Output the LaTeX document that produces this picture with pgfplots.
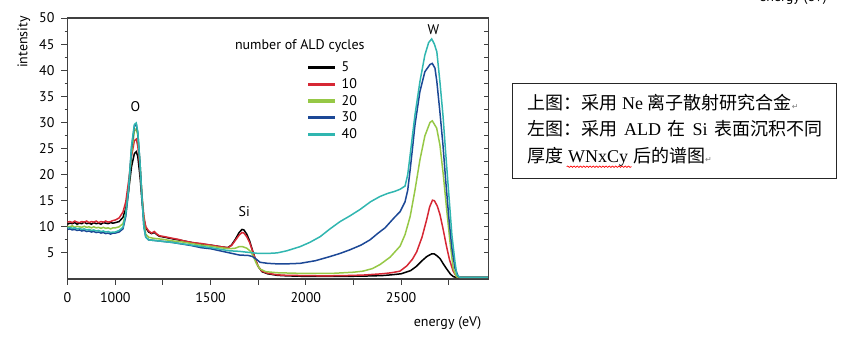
\documentclass[border=0pt]{standalone}
\usepackage{fontspec}
\setmainfont{PT Sans}
\newfontfamily\cjk{Noto Sans CJK SC}
\newfontfamily\tms{Liberation Serif}
\newfontfamily\djv{DejaVu Sans}
\usepackage{pgfplots}
\pgfplotsset{compat=1.18}
\usepackage{pgfplotstable}
\usetikzlibrary{decorations.pathmorphing}

\definecolor{cred}{RGB}{214,40,52}
\definecolor{cgreen}{RGB}{150,200,70}
\definecolor{cblue}{RGB}{28,72,150}
\definecolor{ccyan}{RGB}{48,182,176}
\definecolor{axgray}{RGB}{64,64,64}

\pgfplotstableread{
E I
0 10.5
50 10.7
100 10.6
150 10.8
200 10.5
250 10.7
300 10.6
350 10.9
400 10.6
450 10.7
500 10.5
550 10.8
600 10.6
650 10.7
700 10.5
750 10.8
800 10.7
850 10.6
900 10.8
950 10.7
1000 10.8
1020 11.0
1040 11.8
1055 13.5
1070 17.0
1085 21.5
1100 24.0
1110 24.4
1118 23.5
1130 19.5
1140 15.0
1150 11.5
1160 9.8
1175 9.0
1190 8.7
1205 8.9
1215 8.6
1230 8.2
1260 8.0
1300 7.7
1330 7.5
1360 7.3
1400 7.0
1450 6.7
1500 6.5
1550 6.2
1590 6.0
1610 6.5
1630 7.6
1650 8.9
1665 9.5
1675 9.4
1690 8.6
1705 7.3
1720 5.5
1735 3.8
1750 2.4
1770 1.4
1800 1.0
1850 0.7
1900 0.6
2000 0.5
2100 0.5
2200 0.5
2300 0.55
2400 0.65
2450 0.8
2500 1.0
2550 1.6
2580 2.4
2610 3.5
2635 4.3
2660 4.8
2675 4.8
2690 4.4
2705 3.9
2720 3.0
2740 1.9
2760 0.9
2775 0.45
2790 0.3
2850 0.3
2958 0.3
}\tblack

\pgfplotstableread{
E I
0 10.9
50 11.0
100 10.8
150 11.1
200 10.9
250 10.8
300 11.0
350 10.9
400 11.1
450 10.8
500 11.0
550 10.9
600 11.1
650 10.8
700 11.0
750 10.9
800 11.1
850 10.9
900 11.0
950 11.2
1000 11.3
1020 11.7
1040 12.8
1055 14.8
1070 18.8
1085 23.5
1100 26.5
1110 26.8
1118 25.5
1130 21.0
1140 16.0
1150 12.0
1160 10.0
1175 9.2
1190 8.8
1205 9.1
1215 8.7
1230 8.3
1260 8.1
1300 7.8
1330 7.6
1360 7.3
1400 7.0
1450 6.8
1500 6.5
1550 6.2
1590 6.0
1610 6.4
1630 7.4
1650 8.4
1665 8.9
1675 8.8
1690 8.1
1705 7.0
1720 5.4
1735 3.8
1750 2.4
1770 1.5
1800 1.1
1850 0.8
1900 0.7
2000 0.65
2100 0.6
2200 0.65
2300 0.75
2400 1.0
2450 1.2
2494 1.5
2530 2.5
2560 3.8
2582 5.2
2610 8.0
2634 11.3
2650 13.8
2665 15.1
2675 15.0
2690 14.0
2704 12.4
2720 9.7
2739 6.2
2755 3.6
2774 1.5
2790 0.5
2800 0.3
2850 0.3
2958 0.3
}\tred

\pgfplotstableread{
E I
0 10.1
50 10.0
100 10.2
150 9.9
200 10.1
250 10.0
300 9.9
350 10.1
400 9.9
450 10.0
500 9.8
550 10.0
600 9.8
650 9.9
700 9.7
750 9.9
800 9.7
850 9.8
900 9.6
950 9.8
1000 9.8
1020 10.0
1040 10.6
1055 12.5
1070 17.0
1085 24.0
1100 28.3
1110 28.8
1118 27.5
1130 22.0
1140 16.0
1150 11.0
1160 8.6
1175 8.0
1200 7.8
1250 7.6
1300 7.3
1350 7.1
1400 6.8
1450 6.5
1500 6.3
1550 6.0
1600 5.8
1630 5.9
1650 6.2
1668 6.2
1690 5.9
1710 5.3
1725 4.3
1740 3.0
1760 1.9
1790 1.4
1850 1.2
1950 1.1
2050 1.1
2150 1.1
2250 1.3
2300 1.5
2350 2.0
2391 2.8
2443 4.2
2495 6.3
2521 8.5
2548 12.0
2573 17.0
2599 22.8
2625 27.4
2652 30.0
2664 30.3
2687 28.9
2704 25.7
2722 19.9
2739 13.5
2757 7.1
2774 2.0
2791 0.4
2810 0.3
2958 0.3
}\tgreen

\pgfplotstableread{
E I
0 9.5
50 9.6
100 9.4
150 9.5
200 9.3
250 9.4
300 9.2
350 9.3
400 9.1
450 9.2
500 9.0
550 9.1
600 8.9
650 9.0
700 8.8
750 8.9
800 8.7
850 8.8
900 8.6
950 8.8
1000 8.8
1020 9.0
1040 9.6
1055 12.0
1070 17.0
1085 25.0
1100 29.3
1110 29.6
1118 28.0
1130 22.0
1140 15.5
1150 10.0
1160 8.0
1175 7.5
1200 7.4
1250 7.2
1300 7.0
1350 6.7
1400 6.4
1450 6.0
1500 5.8
1550 5.4
1600 5.0
1650 4.6
1700 4.5
1720 4.3
1740 3.8
1760 3.2
1800 3.0
1850 2.9
1900 2.9
1970 3.0
2050 3.5
2127 4.3
2180 4.9
2232 5.6
2290 6.5
2337 7.5
2380 8.8
2416 9.8
2468 11.9
2495 12.9
2521 14.8
2535 17.0
2548 21.0
2560 25.0
2573 29.5
2599 35.9
2625 39.7
2652 41.1
2664 41.3
2678 40.4
2688 37.8
2704 32.0
2720 25.7
2735 18.6
2751 11.7
2767 5.9
2783 2.1
2800 0.5
2810 0.3
2958 0.3
}\tblue

\pgfplotstableread{
E I
0 9.8
50 9.9
100 9.7
150 9.8
200 9.6
250 9.7
300 9.5
350 9.6
400 9.4
450 9.5
500 9.3
550 9.4
600 9.2
650 9.3
700 9.1
750 9.2
800 9.0
850 9.1
900 8.9
950 9.0
1000 9.0
1020 9.3
1040 9.9
1055 12.5
1070 17.5
1085 25.5
1100 29.6
1110 29.9
1118 28.2
1130 22.0
1140 15.5
1150 10.0
1160 8.0
1175 7.5
1200 7.4
1250 7.2
1300 7.0
1400 6.5
1500 6.0
1550 5.7
1600 5.4
1650 5.3
1700 5.1
1750 4.9
1800 4.9
1850 5.0
1900 5.4
1970 6.2
2020 7.0
2075 8.1
2127 9.6
2180 11.0
2232 12.1
2284 13.3
2340 14.8
2389 15.8
2430 16.4
2468 16.8
2495 17.2
2521 17.8
2535 20.0
2548 23.8
2560 27.5
2573 31.4
2599 37.8
2625 42.9
2645 45.3
2661 46.0
2675 45.0
2688 43.5
2704 37.8
2720 31.4
2735 23.8
2751 16.1
2767 8.4
2783 3.3
2793 0.8
2810 0.3
2958 0.3
}\tcyan

\begin{document}
\begin{tikzpicture}[x=0.5pt,y=0.5pt]
\path[use as bounding box] (0,0) rectangle (859,343);
\begin{axis}[
  at={(33.75pt,32pt)}, anchor=south west, scale only axis,
  width=210.4pt, height=130.5pt,
  xmin=749, xmax=2958, ymin=0, ymax=50,
  xtick={749,1000,1250,1500,1750,2000,2250,2500,2750},
  xticklabels={0,1000,,1500,,2000,,2500,},
  ytick={5,10,...,50}, minor y tick num=1,
  xtick pos=bottom, ytick pos=left,
  tick align=outside,
  major tick length=3pt, minor tick length=1.4pt,
  axis line style={line width=0.6pt, color=axgray},
  tick style={line width=0.5pt, color=axgray},
  /pgf/number format/assume math mode=true,
  font=\fontsize{7}{8}\selectfont,
  xlabel={energy (eV)}, ylabel={intensity},
  xlabel style={at={(axis description cs:1,-0.168)}, anchor=east},
  ylabel style={at={(axis description cs:-0.104,0.908)}, anchor=center},
  legend style={at={(axis description cs:0.567,0.838)}, anchor=north west,
    draw=none, fill=none, font=\fontsize{7}{8}\selectfont, inner sep=0pt,
    row sep=1.35pt, column sep=2pt,
    nodes={inner sep=0.5pt, text height=5pt, text depth=1pt}},
  legend cell align=left,
  legend image code/.code={\draw[#1,line width=1.6pt] (0pt,0pt) -- (13.5pt,0pt);},
  every axis plot/.append style={line width=0.75pt, mark=none},
]
\addplot[black] table[x expr={\thisrow{E}<1000 ? 749+0.251*\thisrow{E} : \thisrow{E}}, y=I] {\tblack};
\addlegendentry{5}
\addplot[cred] table[x expr={\thisrow{E}<1000 ? 749+0.251*\thisrow{E} : \thisrow{E}}, y=I] {\tred};
\addlegendentry{10}
\addplot[cgreen] table[x expr={\thisrow{E}<1000 ? 749+0.251*\thisrow{E} : \thisrow{E}}, y=I] {\tgreen};
\addlegendentry{20}
\addplot[cblue] table[x expr={\thisrow{E}<1000 ? 749+0.251*\thisrow{E} : \thisrow{E}}, y=I] {\tblue};
\addlegendentry{30}
\addplot[ccyan] table[x expr={\thisrow{E}<1000 ? 749+0.251*\thisrow{E} : \thisrow{E}}, y=I] {\tcyan};
\addlegendentry{40}
\node at (axis cs:1105,33) {O};
\node at (axis cs:1677,13) {Si};
\node at (axis cs:2670,47.7) {W};
\node at (axis description cs:0.552,0.893) {number of ALD cycles};
\end{axis}
\begin{axis}[
  at={(33.75pt,32pt)}, anchor=south west, scale only axis,
  width=210.4pt, height=130.5pt,
  xmin=749, xmax=2958, ymin=0, ymax=50,
  axis x line=none, axis y line*=right,
  ytick={5,10,...,50}, minor y tick num=1, yticklabels={},
  tick align=inside,
  major tick length=2.2pt, minor tick length=2.2pt,
  axis line style={line width=0.6pt, color=axgray},
  tick style={line width=0.5pt, color=axgray},
]
\end{axis}
\draw[line width=0.6pt, color=black!85] (512.7,259.7) rectangle (836.7,164.7);
\node[anchor=base west, inner sep=0pt, font=\fontsize{9}{10}\selectfont] at (527,233)
  {{\cjk 上图：采用} {\tms Ne} {\cjk 离子散射研究合金}{\djv\fontsize{4}{4}\selectfont\color{gray}↵}};
\node[anchor=base west, inner sep=0pt, font=\fontsize{9}{10}\selectfont] at (527,207)
  {\makebox[147.5pt][s]{{\cjk 左图：采用} {\tms ALD} {\cjk 在} {\tms Si} {\cjk 表面沉积不同}}};
\node[anchor=base west, inner sep=0pt, font=\fontsize{9}{10}\selectfont] at (527,180.5)
  {{\cjk 厚度} {\tms WNxCy} {\cjk 后的谱图}{\djv\fontsize{4}{4}\selectfont\color{gray}↵}};
\draw[red, line width=0.35pt, decorate, decoration={snake, amplitude=0.35pt, segment length=1.6pt}] (566.7,176.3) -- (631.7,176.3);
\node[anchor=base, inner sep=0pt, font=\fontsize{7}{8}\selectfont] at (793,341.5) {energy (eV)};
\end{tikzpicture}
\end{document}
